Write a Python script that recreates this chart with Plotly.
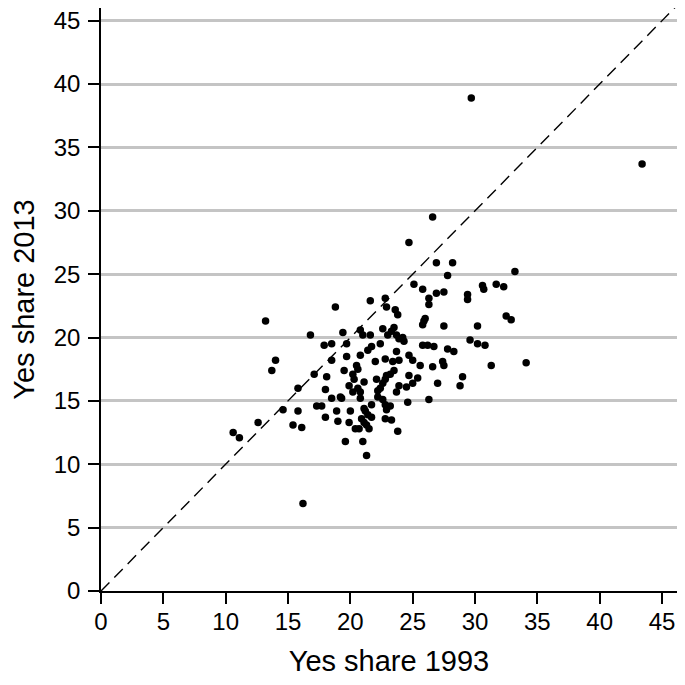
import plotly.graph_objects as go

# Yes share per unit, 1993 vs 2013
yes_1993 = [
    21.6, 18.8, 13.2, 16.8, 19.4, 20.8, 21.0, 21.6, 17.9, 18.5,
    19.7, 21.4, 21.7, 14.0, 13.7, 18.5, 19.7, 20.8, 22.0, 20.5,
    20.6, 19.5, 17.1, 20.2, 20.3, 18.1, 21.1, 19.9, 15.8, 20.6,
    18.0, 20.2, 20.8, 18.5, 19.2, 19.3, 20.8, 21.7, 17.3, 17.7,
    14.6, 15.8, 18.9, 20.0, 21.1, 21.2, 21.4, 21.7, 18.0, 19.0,
    19.9, 20.9, 21.1, 21.3, 21.5, 12.6, 15.4, 16.1, 20.4, 20.7,
    10.6, 11.1, 19.6, 21.0, 21.3, 16.2, 26.6, 24.7, 26.9, 28.2,
    27.8, 33.2, 25.1, 25.8, 26.9, 27.5, 26.3, 26.3, 29.4, 29.4,
    30.6, 30.7, 31.7, 32.3, 22.8, 22.9, 23.6, 23.8, 26.0, 25.9,
    25.8, 27.5, 30.2, 32.5, 32.9, 22.6, 23.5, 23.3, 23.0, 23.7,
    23.9, 24.2, 24.3, 25.8, 26.2, 26.7, 27.8, 28.3, 29.6, 30.2,
    30.8, 22.4, 23.7, 24.7, 25.0, 22.8, 23.4, 23.9, 25.6, 26.6,
    27.4, 27.5, 31.3, 23.5, 23.2, 22.9, 22.8, 22.6, 22.4, 22.2,
    24.7, 25.4, 25.0, 24.5, 22.1, 23.9, 23.7, 27.0, 29.0, 28.8,
    26.3, 24.6, 22.2, 22.6, 22.8, 23.2, 22.9, 22.8, 23.3, 23.8,
    29.7, 43.4, 34.1,
]
yes_2013 = [
    22.9, 22.4, 21.3, 20.2, 20.4, 20.6, 20.2, 20.2, 19.4, 19.5,
    19.5, 19.0, 19.3, 18.2, 17.4, 18.2, 18.5, 18.6, 18.1, 17.8,
    17.5, 17.4, 17.1, 17.1, 16.7, 16.9, 16.5, 16.2, 16.0, 16.0,
    15.9, 15.7, 15.7, 15.2, 15.3, 15.2, 15.2, 14.7, 14.6, 14.6,
    14.3, 14.2, 14.2, 14.2, 14.4, 14.2, 13.9, 13.7, 13.7, 13.4,
    13.3, 13.6, 13.3, 13.1, 12.8, 13.3, 13.1, 12.9, 12.8, 12.8,
    12.5, 12.1, 11.8, 11.8, 10.7, 6.9, 29.5, 27.5, 25.9, 25.9,
    24.9, 25.2, 24.2, 23.8, 23.5, 23.6, 23.1, 22.6, 23.4, 23.0,
    24.1, 23.8, 24.2, 24.0, 23.1, 22.4, 22.2, 21.8, 21.5, 21.3,
    21.0, 20.9, 20.9, 21.7, 21.4, 20.7, 20.8, 20.5, 20.2, 20.2,
    19.9, 20.0, 19.7, 19.4, 19.4, 19.3, 19.1, 18.9, 19.8, 19.5,
    19.4, 19.5, 18.9, 18.6, 18.2, 18.3, 18.1, 18.2, 17.8, 17.7,
    18.1, 17.8, 17.8, 17.4, 17.1, 17.0, 16.7, 16.4, 16.0, 15.8,
    17.0, 16.8, 16.4, 16.1, 16.7, 16.2, 15.7, 16.4, 16.9, 16.2,
    15.1, 14.9, 15.3, 15.1, 14.7, 14.6, 14.3, 13.6, 13.5, 12.6,
    38.9, 33.7, 18.0,
]

x_max = 46.2
y_max = 46.0
ticks = list(range(0, 50, 5))
diag = [0, x_max]

fig = go.Figure()

# 45-degree reference line
fig.add_trace(go.Scatter(
    x=diag, y=diag, mode="lines",
    line=dict(color="black", width=1.4, dash="12px,7px"),
    hoverinfo="skip",
))

fig.add_trace(go.Scatter(
    x=yes_1993, y=yes_2013, mode="markers",
    marker=dict(color="black", size=7.5),
    hovertemplate="1993: %{x}<br>2013: %{y}<extra></extra>",
))

# the page body adds an 8px margin, so keep the figure inside the window
fig.update_layout(
    width=669, height=669,
    margin=dict(l=93, r=0, t=0, b=86),
    plot_bgcolor="white", paper_bgcolor="white",
    showlegend=False,
    font=dict(family="Liberation Sans, Arial, sans-serif", size=24, color="black"),
)

fig.update_xaxes(
    range=[0, x_max], tickvals=ticks, automargin=False,
    showgrid=False, zeroline=False,
    showline=True, linecolor="black", linewidth=1.7,
    ticks="outside", ticklen=11, tickwidth=1.7, tickcolor="black",
    ticklabelstandoff=-3, ticklabeloverflow="allow",
    title=dict(text="Yes share 1993", standoff=31),
)
fig.update_yaxes(
    range=[0, y_max], tickvals=ticks, automargin=False,
    showgrid=True, gridcolor="#c4c4c4", gridwidth=2.5,
    zeroline=False,
    showline=True, linecolor="black", linewidth=1.7,
    ticks="outside", ticklen=11, tickwidth=1.7, tickcolor="black",
    ticklabelstandoff=3, ticklabeloverflow="allow",
    title=dict(text="Yes share 2013", standoff=26),
)

fig.write_html("out.html")
